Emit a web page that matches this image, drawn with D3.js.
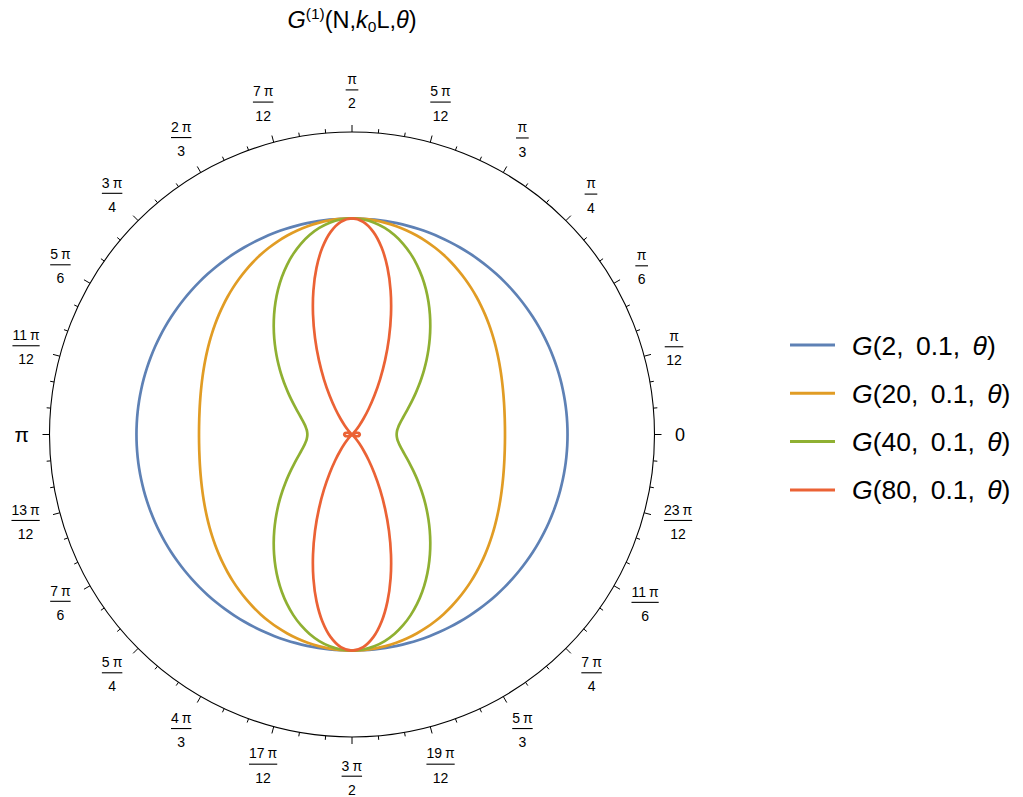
<!DOCTYPE html>
<html>
<head>
<meta charset="utf-8">
<script src="https://cdn.jsdelivr.net/npm/d3@7"></script>
<style>
  html, body { margin: 0; padding: 0; background: #fff; }
  svg { display: block; font-family: "Liberation Sans", Arial, sans-serif; }
</style>
</head>
<body>
<svg id="chart" width="1023" height="797"></svg>
<script>
// Polar angles (degrees) of the sampled points in the first quadrant
const thetaDeg = [0, 3, 6, 9, 12, 15, 18, 21, 24, 27, 30, 33, 36, 39, 42, 45,
                  48, 51, 54, 57, 60, 63, 66, 69, 72, 75, 78, 81, 84, 87, 90];

// Radial values of each pattern over the first quadrant (mirror-symmetric)
const gN2 = [0.99750, 0.99751, 0.99753, 0.99756, 0.99761, 0.99767, 0.99774, 0.99782,
             0.99791, 0.99802, 0.99813, 0.99824, 0.99836, 0.99849, 0.99862, 0.99875,
             0.99888, 0.99901, 0.99914, 0.99926, 0.99938, 0.99948, 0.99959, 0.99968,
             0.99976, 0.99983, 0.99989, 0.99994, 0.99997, 0.99999, 1.00000];
const gN20 = [0.70807, 0.70876, 0.71085, 0.71429, 0.71909, 0.72520, 0.73260, 0.74122,
              0.75098, 0.76185, 0.77368, 0.78645, 0.80000, 0.81421, 0.82896, 0.84405,
              0.85940, 0.87477, 0.89001, 0.90493, 0.91939, 0.93316, 0.94606, 0.95792,
              0.96857, 0.97787, 0.98567, 0.99187, 0.99636, 0.99909, 1.00000];
const gN40 = [0.20670, 0.20779, 0.21107, 0.21656, 0.22435, 0.23451, 0.24715, 0.26237,
              0.28031, 0.30106, 0.32474, 0.35141, 0.38111, 0.41382, 0.44946, 0.48785,
              0.52872, 0.57172, 0.61634, 0.66203, 0.70807, 0.75368, 0.79800, 0.84008,
              0.87899, 0.91381, 0.94368, 0.96780, 0.98552, 0.99635, 1.00000];
const gN80 = [0.035797, 0.035555, 0.034819, 0.033556, 0.031721, 0.029266, 0.026152, 0.022378,
              0.018014, 0.013234, 0.0083723, 0.0039742, 0.00085, 0.0001126, 0.0032028, 0.011863,
              0.028077, 0.053920, 0.091361, 0.14199, 0.20670, 0.28538, 0.37660, 0.47753,
              0.58386, 0.69006, 0.78970, 0.87611, 0.94307, 0.98547, 1.00000];

const seriesN = ["2", "20", "40", "80"];
const seriesColors = ["#5E81B5", "#E19C24", "#8FB032", "#EB6235"];
const seriesValues = [gN2, gN20, gN40, gN80];

// Angular tick labels at multiples of pi/12
const tickNum = ["0", "π", "π", "π", "π", "5 π", "π", "7 π", "2 π", "3 π", "5 π", "11 π",
                 "π", "13 π", "7 π", "5 π", "4 π", "17 π", "3 π", "19 π", "5 π", "7 π", "11 π", "23 π"];
const tickDen = ["", "12", "6", "4", "3", "12", "2", "12", "3", "4", "6", "12",
                 "", "12", "6", "4", "3", "12", "2", "12", "3", "4", "6", "12"];

const svg = d3.select("#chart");
const cx = 352, cy = 434.5, R = 302.5;
const rScale = d3.scaleLinear().domain([0, 1.4]).range([0, R]);

const g = svg.append("g").attr("transform", `translate(${cx},${cy})`);

// Outer frame circle
g.append("circle").attr("r", R).attr("fill", "none").attr("stroke", "#000").attr("stroke-width", 1.1);

// Ticks: minor every 5 degrees, major every 15 degrees
const tickAngles = d3.range(0, 360, 5);
g.selectAll("line.tick").data(tickAngles).join("line")
  .attr("class", "tick")
  .attr("x1", d => R * Math.cos(d * Math.PI / 180))
  .attr("y1", d => -R * Math.sin(d * Math.PI / 180))
  .attr("x2", d => (R + (d % 15 === 0 ? 7 : 4)) * Math.cos(d * Math.PI / 180))
  .attr("y2", d => -(R + (d % 15 === 0 ? 7 : 4)) * Math.sin(d * Math.PI / 180))
  .attr("stroke", "#000").attr("stroke-width", 1);

// Angle labels
const labelGap = 20.5;
tickNum.forEach((num, i) => {
  const ang = i * 15 * Math.PI / 180;
  const lg = g.append("g");
  if (tickDen[i] === "") {
    lg.append("text").text(num).attr("font-size", num === "π" ? 21 : 18).attr("text-anchor", "middle")
      .attr("y", 6.5).attr("fill", "#000");
  } else {
    const tn = lg.append("text").attr("font-size", 14).attr("text-anchor", "middle")
      .attr("y", -7.5).attr("fill", "#000");
    const parts = num.split(" ");
    if (parts.length > 1) {
      tn.append("tspan").text(parts[0]);
      tn.append("tspan").attr("dx", 3).text(parts[1]);
    } else {
      tn.text(num);
    }
    const td = lg.append("text").text(tickDen[i]).attr("font-size", 14).attr("text-anchor", "middle")
      .attr("y", 16.8).attr("fill", "#000");
    const w = Math.max(tn.node().getComputedTextLength(), td.node().getComputedTextLength()) + 3;
    lg.append("line").attr("x1", -w / 2).attr("x2", w / 2).attr("y1", -1.8).attr("y2", -1.8)
      .attr("stroke", "#000").attr("stroke-width", 1.1);
  }
  const bb = lg.node().getBBox();
  const hw = bb.width / 2, hh = bb.height / 2;
  const ox = bb.x + hw, oy = bb.y + hh;
  const dist = R + labelGap + Math.hypot(Math.cos(ang) * hw, Math.sin(ang) * hh);
  lg.attr("transform", `translate(${dist * Math.cos(ang) - ox},${-dist * Math.sin(ang) - oy})`);
});

// Build full closed curves from the first-quadrant samples using the pattern symmetry
function fullCurve(vals) {
  const pts = [];
  const n = thetaDeg.length;
  for (let i = 0; i < n; i++) pts.push({ t: thetaDeg[i], r: vals[i] });
  for (let i = n - 2; i >= 0; i--) pts.push({ t: 180 - thetaDeg[i], r: vals[i] });
  for (let i = 1; i < n; i++) pts.push({ t: 180 + thetaDeg[i], r: vals[i] });
  for (let i = n - 2; i >= 1; i--) pts.push({ t: 360 - thetaDeg[i], r: vals[i] });
  return pts;
}

const radial = d3.lineRadial()
  .angle(d => Math.PI / 2 - d.t * Math.PI / 180)
  .radius(d => rScale(d.r))
  .curve(d3.curveCatmullRomClosed.alpha(0.5));

seriesValues.forEach((vals, i) => {
  g.append("path").attr("d", radial(fullCurve(vals)))
    .attr("fill", "none").attr("stroke", seriesColors[i]).attr("stroke-width", 2.7)
    .attr("stroke-linejoin", "round");
});

// Title
const title = svg.append("text").attr("x", 352).attr("y", 28).attr("text-anchor", "middle")
  .attr("font-size", 23.5).attr("fill", "#000");
title.append("tspan").attr("font-style", "italic").text("G");
title.append("tspan").attr("font-size", 15.5).attr("dy", -9).text("(1)");
title.append("tspan").attr("dy", 9).text("(N,");
title.append("tspan").attr("font-style", "italic").text("k");
title.append("tspan").attr("font-size", 15.5).attr("dy", 4).text("0");
title.append("tspan").attr("dy", -4).text("L,");
title.append("tspan").attr("font-style", "italic").text("θ");
title.append("tspan").text(")");

// Legend
const legend = svg.append("g");
seriesN.forEach((n, i) => {
  const y = 345 + i * 48.3;
  legend.append("line").attr("x1", 790).attr("x2", 835).attr("y1", y).attr("y2", y)
    .attr("stroke", seriesColors[i]).attr("stroke-width", 3);
  const t = legend.append("text").attr("x", 852).attr("y", y + 9.5).attr("font-size", 26.5)
    .attr("fill", "#000").attr("word-spacing", 5);
  t.append("tspan").attr("font-style", "italic").text("G");
  t.append("tspan").text(`(${n}, 0.1, `);
  t.append("tspan").attr("font-style", "italic").text("θ");
  t.append("tspan").text(")");
});
</script>
</body>
</html>
